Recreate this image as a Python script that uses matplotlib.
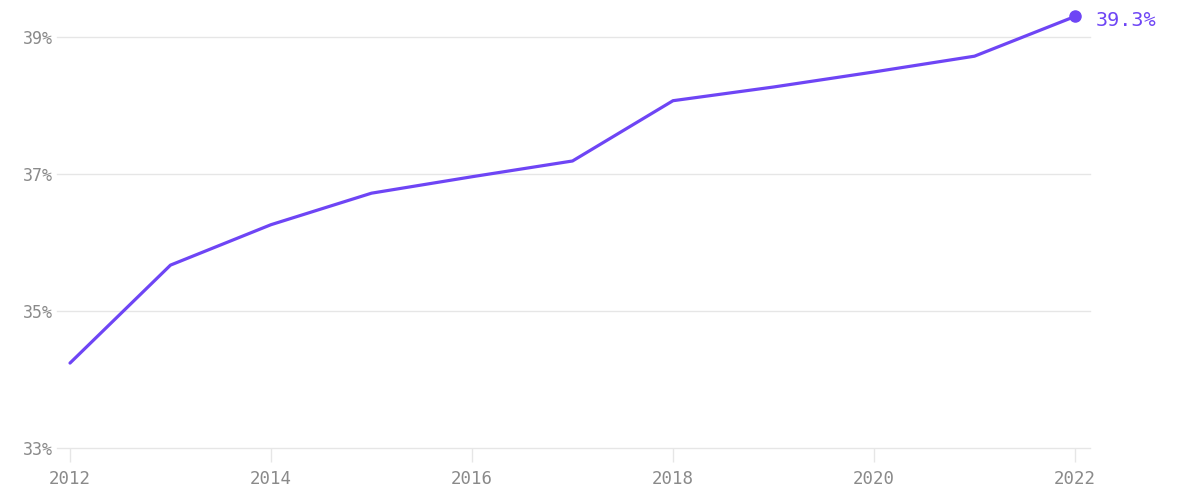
import matplotlib
matplotlib.use("Agg")
import matplotlib.pyplot as plt

years = [2012, 2013, 2014, 2015, 2016, 2017, 2018, 2019, 2020, 2021, 2022]
values = [34.24, 35.67, 36.26, 36.72, 36.96, 37.19, 38.07, 38.27, 38.49, 38.72, 39.3]
y_ticks = [33, 35, 37, 39]
y_tick_labels = ["33%", "35%", "37%", "39%"]
x_ticks = [2012, 2014, 2016, 2018, 2020, 2022]
end_label = "39.3%"

line_color = "#6e45f5"
grid_color = "#e6e6e6"
text_color = "#8a8a8a"

fig = plt.figure(figsize=(11.82, 4.91), dpi=100)
ax = fig.add_axes([57/1182, 1 - 448/491, (1090 - 57)/1182, (448 - 10)/491])

ax.plot(years, values, color=line_color, lw=2.3, solid_capstyle="round", clip_on=False, zorder=3)
ax.plot([years[-1]], [values[-1]], "o", color=line_color, ms=8, clip_on=False, zorder=4)
ax.annotate(end_label, (years[-1], values[-1]), xytext=(15, -3), textcoords="offset points",
            va="center", ha="left", color=line_color, fontsize=14.5,
            family="DejaVu Sans Mono", annotation_clip=False)

ax.set_xlim(2012 - 13/100.5, 2022 + 15/100.5)
ax.set_ylim(33, 39 + 27/68.5)

ax.set_yticks(y_ticks)
ax.set_yticklabels(y_tick_labels)
ax.set_xticks(x_ticks)
ax.set_xticklabels([str(x) for x in x_ticks])

for s in ax.spines.values():
    s.set_visible(False)
ax.grid(axis="y", color=grid_color, lw=1)
for gl in ax.get_ygridlines():
    gl.set_clip_on(False)
ax.set_axisbelow(True)

ax.tick_params(axis="y", length=0, pad=3, labelsize=12, labelcolor=text_color)
ax.tick_params(axis="x", length=10, width=1, color=grid_color, pad=6, labelsize=12.5, labelcolor=text_color)
for lab in ax.get_xticklabels() + ax.get_yticklabels():
    lab.set_family("DejaVu Sans Mono")

fig.savefig("out.png", dpi=100, facecolor="white")
